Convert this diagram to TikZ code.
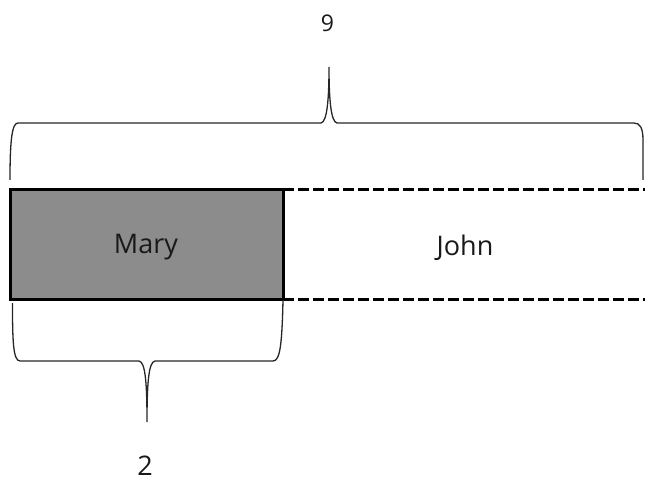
\documentclass[tikz,border=0pt]{standalone}
\usepackage{fontspec}
\setmainfont{Open Sans}
\definecolor{hatchgray}{RGB}{140,140,140}
\begin{document}
\begin{tikzpicture}[x=1pt,y=-1pt,
  lbl/.style={inner sep=0pt,anchor=base,text=black!90,font=\fontsize{27}{32}\selectfont},
  numlbl/.style={inner sep=0pt,anchor=base,text=black!90},
  bracepath/.style={line width=1.3pt,draw=black!85},
  dashline/.style={line width=3pt,dash pattern=on 11pt off 4pt},
  boxline/.style={line width=3pt}]
\useasboundingbox (0,0) rectangle (645,481);
% Mary box
\fill[hatchgray] (10,189.5) rectangle (283,299);
\draw[boxline] (10,189.5) rectangle (283,299);
% dashed lines
\coordinate (dt0) at (283,189.5);
\coordinate (dt1) at (645,189.5);
\coordinate (db0) at (283,299);
\coordinate (db1) at (645,299);
\draw[dashline] (dt0) -- (dt1);
\draw[dashline] (db0) -- (db1);
% labels
\node[lbl] (mary) at (146,253) {Mary};
\node[lbl] (john) at (465,255) {John};
\node[numlbl,font=\fontsize{23}{28}\selectfont] (nine) at (327.5,32) {9};
\node[numlbl,font=\fontsize{27}{32}\selectfont] (two) at (145,475) {2};
% top brace
\draw[bracepath] (10,180) .. controls (10,140) and (12,123) .. (18,123)
  -- (321,123) .. controls (327,122) and (329,100) .. (329,67)
  .. controls (329,100) and (331,122) .. (337,123)
  -- (634,123) .. controls (640,123) and (643,128) .. (643,140) -- (643,180);
% bottom brace
\draw[bracepath] (12.5,303) .. controls (12.5,340) and (13,361) .. (20,361)
  -- (139,361) .. controls (145,362) and (147,380) .. (147,422)
  .. controls (147,380) and (149,362) .. (155,361)
  -- (273,361) .. controls (280,361) and (282,345) .. (283,300);
\end{tikzpicture}
\end{document}
